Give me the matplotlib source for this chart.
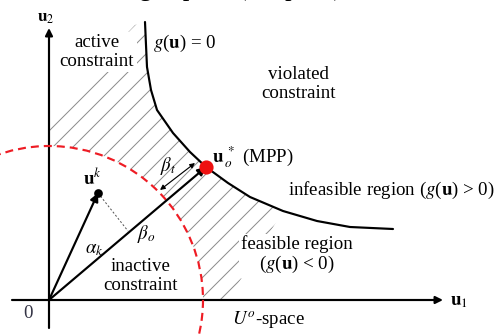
import matplotlib

matplotlib.use("Agg")
import matplotlib.pyplot as plt
from matplotlib.patches import Circle, Polygon

# u-space geometry (1 unit ~ 100 px of the reference)
curve_u1 = [0.96, 0.97, 0.98, 1.02, 1.08, 1.24, 1.41, 1.57, 1.79, 2.01, 2.34, 2.68, 3.01, 3.44]
curve_u2 = [2.78, 2.55, 2.33, 2.10, 1.90, 1.67, 1.48, 1.33, 1.17, 1.03, 0.89, 0.79, 0.73, 0.71]
beta_radius = 1.54
mpp = (1.57, 1.33)
uk = (0.49, 1.07)
uk_foot = (0.79, 0.69)
beta_t_ends = [(1.11, 1.10), (1.46, 1.37)]
hatch_left = [(0.0, 0.0), (0.0, 1.85), (0.86, 2.75)]
hatch_right = [(1.79, 0.0)]
axis_u1 = [-0.37, 3.94]
axis_u2 = [-0.28, 2.72]

plt.rcParams["font.family"] = ["Liberation Serif", "DejaVu Serif"]
plt.rcParams["mathtext.fontset"] = "stix"
plt.rcParams["hatch.linewidth"] = 0.6
plt.rcParams["lines.scale_dashes"] = False

fig = plt.figure(figsize=(4.15, 335 / 120), dpi=120)
ax = fig.add_axes([0, 0, 1, 1])
ax.set_xlim(-0.49, 4.49)
ax.set_ylim(-0.35, 3.00)
ax.axis("off")

# hatched region between circle and limit state
n_cut = curve_u1.index(2.34) + 1
pts = hatch_left + list(zip(curve_u1[:n_cut], curve_u2[:n_cut])) + hatch_right
ax.add_patch(Polygon(pts, closed=True, facecolor="none", edgecolor="#8c8c8c",
                     linewidth=0, hatch="//", zorder=1))
ax.add_patch(Circle((0, 0), beta_radius, facecolor="white", edgecolor="none", zorder=2))

# limit state g(u)=0
ax.plot(curve_u1, curve_u2, color="black", lw=1.3, zorder=3, solid_capstyle="round")

# axes
arrow_kw = dict(arrowstyle="-|>", lw=1.3, color="black", mutation_scale=9, shrinkA=0, shrinkB=0)
ax.annotate("", xy=(axis_u1[1], 0), xytext=(axis_u1[0], 0), arrowprops=arrow_kw, zorder=3)
ax.annotate("", xy=(0, axis_u2[1]), xytext=(0, axis_u2[0]), arrowprops=arrow_kw, zorder=3)

# beta circle
ax.add_patch(Circle((0, 0), beta_radius, facecolor="none", edgecolor="#ee1c24",
                    lw=1.3, linestyle=(0, (4.8, 3.0)), zorder=4))

# vectors
ax.annotate("", xy=mpp, xytext=(0, 0), arrowprops=dict(arrow_kw, mutation_scale=10), zorder=5)
ax.annotate("", xy=uk, xytext=(0, 0), arrowprops=dict(arrow_kw, mutation_scale=10), zorder=5)
ax.plot([uk[0], uk_foot[0]], [uk[1], uk_foot[1]], color="#555555", lw=0.6,
        linestyle=(0, (1.2, 1.2)), zorder=5)
ax.annotate("", xy=beta_t_ends[1], xytext=beta_t_ends[0],
            arrowprops=dict(arrowstyle="<|-|>", lw=0.7, color="black", mutation_scale=6,
                            shrinkA=0, shrinkB=0), zorder=5)
ax.plot(*uk, "o", color="black", ms=4.2, zorder=6)
ax.plot(*mpp, "o", color="#ee1111", ms=7.5, zorder=6)

fs = 11.3
white = dict(facecolor="white", edgecolor="none", pad=1.5)
ax.text(0.48, 2.48, "active\nconstraint", fontsize=fs, ha="center", va="center",
        linespacing=1.1, bbox=white, zorder=5)
ax.text(1.04, 2.57, r"$g$($\mathbf{u}$) = 0", fontsize=fs, ha="left", va="center", zorder=5)
ax.text(2.49, 2.16, "violated\nconstraint", fontsize=fs, ha="center", va="center",
        linespacing=1.1, zorder=5)
ax.text(1.63, 1.43, r"$\mathbf{u}_{\,o}^{\ *}$ (MPP)", fontsize=fs, ha="left", va="center", zorder=5)
ax.text(2.39, 1.10, r"infeasible region ($g$($\mathbf{u}$) > 0)", fontsize=fs, ha="left",
        va="center", zorder=5)
ax.text(2.48, 0.45, "feasible region\n" + r"($g$($\mathbf{u}$) < 0)", fontsize=fs, ha="center",
        va="center", multialignment="center", linespacing=1.1, bbox=white, zorder=5)
ax.text(0.34, 1.22, r"$\mathbf{u}^{k}$", fontsize=fs, ha="left", va="center", zorder=7)
ax.text(0.36, 0.51, r"$\alpha_k$", fontsize=fs, ha="left", va="center", zorder=7)
ax.text(0.88, 0.66, r"$\beta_o$", fontsize=fs, ha="left", va="center", zorder=7)
ax.text(1.19, 1.34, r"$\beta_t$", fontsize=fs, ha="center", va="center", zorder=7)
ax.text(0.92, 0.24, "inactive\nconstraint", fontsize=fs, ha="center", va="center",
        linespacing=1.1, zorder=7)
ax.text(-0.21, -0.13, "0", fontsize=fs, ha="center", va="center", color="#333344", zorder=7)
ax.text(1.83, -0.20, r"$U^{o}$-space", fontsize=fs, ha="left", va="center", zorder=7)
ax.text(4.01, -0.02, r"$\mathbf{u}_1$", fontsize=fs, ha="left", va="center", zorder=7)
ax.text(-0.12, 2.82, r"$\mathbf{u}_2$", fontsize=fs - 1, ha="left", va="center", zorder=7)

# caption line cut off at the top of the image: only its descenders show
ax.text(0.08, 2.995, "the design space (U-space) of a random", fontsize=16, ha="left",
        va="bottom", zorder=7)

fig.savefig("out.png", dpi=120)
plt.close(fig)
